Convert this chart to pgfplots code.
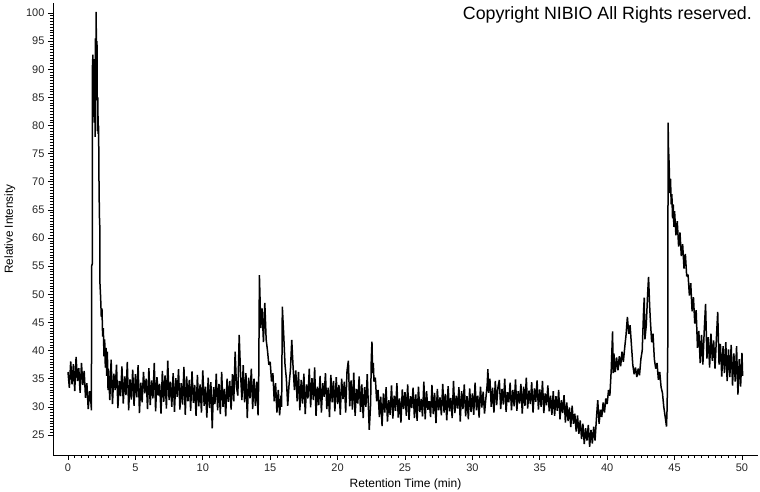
\documentclass[border=0pt]{standalone}
\usepackage{fontspec}
\setmainfont{Liberation Sans}
\usepackage{pgfplots}
\pgfplotsset{compat=1.18}
\begin{document}
\begin{tikzpicture}[x=1pt,y=1pt]
\useasboundingbox (0,0) rectangle (760,492);
\begin{axis}[
  at={(53pt,37pt)}, anchor=south west,
  scale only axis, width=705pt, height=452pt,
  xmin=-1.113, xmax=51.19, ymin=21.45, ymax=101.78,
  axis x line*=bottom, axis y line*=left,
  axis line style={black, line width=0.8pt},
  xtick={0,5,...,50}, ytick={25,30,...,100},
  minor x tick num=9, minor y tick num=9,
  tick align=outside,
  major tick length=5pt, minor tick length=3pt,
  every tick/.style={black, line width=0.7pt},
  /pgf/number format/assume math mode=true,
  tick label style={font=\fontsize{11}{13}\selectfont, text=black!85},
  xlabel={Retention Time (min)}, ylabel={Relative Intensity},
  xlabel style={font=\fontsize{12}{14}\selectfont, yshift=-1pt},
  ylabel style={font=\fontsize{11.7}{14}\selectfont, yshift=4pt},
  clip=false,
]
\addplot[black, line width=1.5pt, no marks, line join=bevel] coordinates {
(0.0,36.2)(0.1,33.4)(0.2,38.1)(0.3,34.0)(0.4,37.6)(0.5,32.8)(0.6,38.9)(0.7,34.6)(0.8,36.9)(0.9,32.5)
(1.0,37.8)(1.1,33.9)(1.2,36.4)(1.3,31.6)(1.4,34.2)(1.5,29.6)(1.6,32.8)(1.70,30.8)(1.74,29.4)(1.75,55.0)(1.80,55.4)(1.81,90.3)(1.85,92.6)(1.88,87.0)(1.92,91.8)(1.95,80.5)(1.98,89.0)
(2.01,78.0)(2.04,95.5)(2.07,85.0)(2.09,100.2)(2.12,84.5)(2.15,95.0)(2.18,79.0)(2.21,85.0)(2.24,78.5)(2.27,80.0)(2.30,70.0)(2.33,64.0)(2.36,62.0)(2.37,52.0)(2.42,49.5)(2.47,46.0)(2.52,47.5)(2.57,42.5)(2.62,44.0)(2.67,39.0)(2.72,42.0)(2.77,37.0)(2.82,40.5)(2.87,35.5)(2.92,39.8)(2.97,33.0)
(3.0,36.8)(3.1,31.2)(3.2,38.4)(3.3,30.5)(3.4,35.9)(3.5,33.0)(3.6,37.5)(3.7,29.8)(3.8,34.6)(3.9,31.9)
(4.0,37.2)(4.1,30.6)(4.2,35.4)(4.3,32.1)(4.4,38.0)(4.5,29.4)(4.6,34.9)(4.7,31.3)(4.8,36.6)(4.9,30.2)
(5.0,35.8)(5.1,31.7)(5.2,37.4)(5.3,28.9)(5.4,34.3)(5.5,30.8)(5.6,36.2)(5.7,32.4)(5.8,35.0)(5.9,29.6)
(6.0,36.9)(6.1,30.3)(6.2,34.7)(6.3,31.5)(6.4,37.8)(6.5,29.2)(6.6,35.3)(6.7,32.0)(6.8,34.1)(6.9,28.8)
(7.0,36.4)(7.1,30.9)(7.2,35.6)(7.3,29.7)(7.4,38.2)(7.5,31.2)(7.6,34.5)(7.7,30.0)(7.8,36.0)(7.9,29.1)
(8.0,35.1)(8.1,31.8)(8.2,36.7)(8.3,29.5)(8.4,34.2)(8.5,30.4)(8.6,37.1)(8.7,28.6)(8.8,35.4)(8.9,31.0)
(9.0,34.8)(9.1,29.3)(9.2,36.3)(9.3,30.7)(9.4,33.9)(9.5,28.4)(9.6,35.7)(9.7,30.1)(9.8,34.0)(9.9,29.0)
(10.0,36.5)(10.1,30.2)(10.2,33.6)(10.3,28.1)(10.4,35.2)(10.5,29.8)(10.6,34.4)(10.7,26.2)(10.8,33.5)(10.9,30.5)
(11.0,35.9)(11.1,29.4)(11.2,34.1)(11.3,28.7)(11.4,36.2)(11.5,30.0)(11.6,33.2)(11.7,28.3)(11.8,35.0)(11.9,30.9)
(12.0,34.6)(12.1,29.5)(12.2,35.8)(12.3,31.0)(12.4,39.8)(12.5,33.5)(12.6,32.0)(12.7,42.8)(12.8,36.0)(12.9,31.2)
(13.0,37.4)(13.1,30.8)(13.2,36.0)(13.3,28.0)(13.4,35.2)(13.5,31.5)(13.6,36.8)(13.7,29.6)(13.8,35.0)(13.9,30.2)
(14.0,34.5)(14.1,28.5)(14.15,35.0)(14.2,53.4)(14.25,49.0)(14.3,44.0)(14.4,47.5)(14.5,41.5)(14.6,48.5)(14.7,42.0)(14.8,40.0)(14.9,37.5)
(15.0,38.0)(15.1,34.5)(15.2,36.0)(15.3,31.0)(15.4,34.2)(15.5,29.0)(15.6,33.0)(15.7,28.5)(15.8,32.0)(15.85,30.0)(15.9,47.8)
(16.0,43.0)(16.1,37.5)(16.2,35.0)(16.3,30.2)(16.4,34.0)(16.5,36.5)(16.6,41.9)(16.7,37.0)(16.8,33.0)(16.9,36.5)
(17.0,31.0)(17.1,36.2)(17.2,29.4)(17.3,34.8)(17.4,30.6)(17.5,35.9)(17.6,28.7)(17.7,34.0)(17.8,31.5)(17.9,36.8)
(18.0,29.9)(18.1,35.1)(18.2,31.2)(18.3,37.0)(18.4,28.4)(18.5,33.6)(18.6,30.3)(18.7,35.5)(18.8,29.0)(18.9,34.2)
(19.0,31.8)(19.1,36.0)(19.2,29.6)(19.3,33.4)(19.4,28.2)(19.5,35.7)(19.6,30.8)(19.7,34.6)(19.8,29.2)(19.9,35.3)
(20.0,30.5)(20.1,33.9)(20.2,28.6)(20.3,35.0)(20.4,31.4)(20.5,34.5)(20.6,29.0)(20.7,36.4)(20.8,38.2)(20.9,30.1)
(21.0,34.7)(21.1,29.5)(21.2,36.1)(21.3,28.4)(21.4,33.2)(21.5,30.6)(21.6,35.4)(21.7,29.1)(21.8,34.0)(21.9,28.0)
(22.0,33.5)(22.1,30.0)(22.2,35.8)(22.3,29.0)(22.35,25.9)(22.45,30.5)(22.5,38.5)(22.55,41.6)(22.6,36.0)(22.65,37.8)(22.7,34.5)(22.8,35.2)(22.9,31.0)
(23.0,33.0)(23.1,28.2)(23.2,31.8)(23.3,26.6)(23.4,32.4)(23.5,29.0)(23.6,33.5)(23.7,27.4)(23.8,31.2)(23.9,28.6)
(24.0,33.8)(24.1,27.9)(24.2,32.0)(24.3,29.3)(24.4,34.2)(24.5,28.1)(24.6,31.5)(24.7,27.2)(24.8,33.1)(24.9,29.6)
(25.0,32.6)(25.1,28.4)(25.2,34.0)(25.3,27.7)(25.4,31.9)(25.5,29.8)(25.6,33.4)(25.7,28.0)(25.8,32.2)(25.9,27.5)
(26.0,33.6)(26.1,29.1)(26.2,31.4)(26.3,28.3)(26.4,34.5)(26.5,27.8)(26.6,32.8)(26.7,29.5)(26.8,31.0)(26.9,28.2)
(27.0,33.9)(27.1,28.7)(27.2,32.5)(27.3,27.1)(27.4,33.2)(27.5,29.4)(27.6,31.7)(27.7,28.5)(27.8,34.1)(27.9,29.0)
(28.0,32.3)(28.1,27.6)(28.2,33.7)(28.3,29.2)(28.4,31.6)(28.5,28.0)(28.6,34.6)(28.7,28.9)(28.8,32.0)(28.9,29.7)
(29.0,33.5)(29.1,27.4)(29.2,32.8)(29.3,29.6)(29.4,34.0)(29.5,28.3)(29.6,31.9)(29.7,27.8)(29.8,33.3)(29.9,29.1)
(30.0,32.4)(30.1,28.6)(30.2,34.3)(30.3,29.4)(30.4,32.0)(30.5,28.1)(30.6,33.6)(30.7,29.9)(30.8,32.7)(30.9,28.8)
(31.0,31.5)(31.1,34.0)(31.15,36.7)(31.2,32.5)(31.3,35.0)(31.4,30.0)(31.5,33.4)(31.6,29.0)(31.7,34.6)(31.8,30.3)(31.9,33.5)
(32.0,34.8)(32.1,29.6)(32.2,33.2)(32.3,30.4)(32.4,35.0)(32.5,29.1)(32.6,32.6)(32.7,30.8)(32.8,34.3)(32.9,29.4)
(33.0,33.0)(33.1,30.1)(33.2,34.9)(33.3,29.3)(33.4,32.8)(33.5,30.6)(33.6,34.1)(33.7,28.8)(33.8,33.6)(33.9,30.2)
(34.0,35.2)(34.1,29.7)(34.2,32.9)(34.3,30.5)(34.4,34.4)(34.5,29.0)(34.6,33.3)(34.7,30.9)(34.8,34.7)(34.9,29.5)
(35.0,33.1)(35.1,30.0)(35.2,34.6)(35.3,28.9)(35.4,32.4)(35.5,30.3)(35.6,33.8)(35.7,29.2)(35.8,32.0)(35.9,28.6)
(36.0,32.8)(36.1,28.4)(36.2,31.9)(36.3,29.3)(36.4,33.0)(36.5,27.8)(36.6,31.2)(36.7,28.9)(36.8,32.1)(36.9,27.2)
(37.0,30.8)(37.1,27.5)(37.2,29.9)(37.3,26.4)(37.4,30.2)(37.5,27.0)(37.6,28.8)(37.7,25.6)(37.8,28.5)(37.9,25.2)
(38.0,27.6)(38.1,24.3)(38.2,27.0)(38.3,23.4)(38.4,26.2)(38.5,24.0)(38.6,26.8)(38.7,22.9)(38.8,25.9)(38.9,23.5)
(39.0,26.5)(39.1,24.0)(39.2,27.8)(39.3,31.2)(39.4,27.0)(39.5,29.5)(39.6,28.2)(39.7,30.8)(39.8,29.0)(39.9,31.5)
(40.0,30.5)(40.1,33.0)(40.2,32.0)(40.3,36.5)(40.4,43.4)(40.45,36.0)(40.5,39.5)(40.6,36.2)(40.7,38.8)(40.8,36.5)(40.9,39.0)
(41.0,37.2)(41.1,39.8)(41.2,38.0)(41.3,40.5)(41.4,42.8)(41.5,46.0)(41.6,43.0)(41.7,44.5)(41.8,41.0)(41.9,37.5)
(42.0,35.8)(42.1,37.0)(42.2,35.3)(42.3,36.8)(42.4,35.6)(42.5,38.5)(42.6,40.0)(42.7,47.0)(42.75,49.4)(42.8,42.0)(42.9,44.5)
(43.0,50.0)(43.07,53.1)(43.15,48.0)(43.2,45.6)(43.3,41.5)(43.4,43.0)(43.5,38.5)(43.6,36.8)(43.7,37.8)(43.8,34.8)(43.9,36.2)
(44.0,33.5)(44.1,32.5)(44.2,30.0)(44.3,28.3)(44.4,26.5)(44.45,30.0)(44.5,42.0)(44.52,80.5)(44.55,76.0)(44.6,73.0)(44.65,68.0)(44.7,70.5)(44.75,66.0)(44.8,67.8)(44.85,63.5)(44.9,66.0)(44.95,62.0)
(45.0,64.8)(45.1,60.5)(45.2,63.0)(45.3,58.5)(45.4,61.0)(45.5,56.8)(45.6,58.9)(45.7,54.6)(45.8,57.2)(45.9,53.2)
(46.0,53.5)(46.1,49.8)(46.2,52.0)(46.3,47.0)(46.4,49.5)(46.5,44.8)(46.6,47.2)(46.7,40.5)(46.8,43.5)(46.9,37.8)
(47.0,42.8)(47.1,37.5)(47.2,43.5)(47.3,48.3)(47.4,38.6)(47.5,42.4)(47.6,37.0)(47.7,43.0)(47.8,38.2)(47.9,41.8)
(48.0,36.8)(48.1,42.0)(48.2,46.9)(48.3,37.5)(48.4,41.2)(48.5,35.4)(48.6,40.8)(48.7,36.0)(48.8,41.5)(48.9,34.6)
(49.0,40.2)(49.1,35.3)(49.2,41.0)(49.3,33.8)(49.4,39.5)(49.5,34.5)(49.6,40.8)(49.7,32.2)(49.8,38.5)(49.9,33.6)
(50.0,39.6)(50.05,35.5)
};
\end{axis}
\node[anchor=base east, inner sep=0pt, font=\fontsize{17.8}{20}\selectfont] at (752,472) {Copyright NIBIO All Rights reserved.};
\end{tikzpicture}
\end{document}
